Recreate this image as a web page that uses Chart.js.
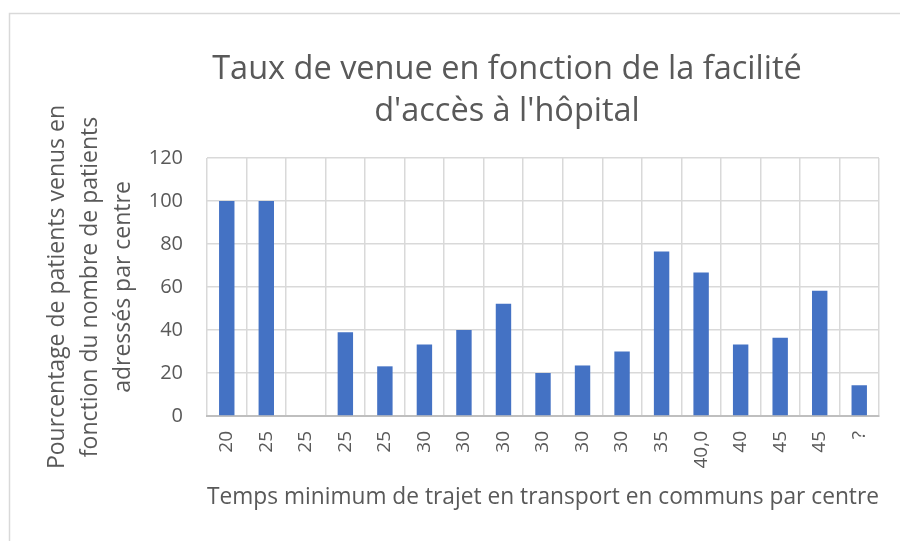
<!DOCTYPE html>
<html>
<head>
<meta charset="utf-8">
<script src="https://cdn.jsdelivr.net/npm/chart.js@4.4.0/dist/chart.umd.min.js"></script>
<style>
  html, body { margin: 0; padding: 0; background: #fff; }
  #wrap { width: 900px; height: 541px; position: relative; }
</style>
</head>
<body>
<div id="wrap"><canvas id="chart" width="900" height="541"></canvas></div>
<script>
// data
const categories = ['20', '25', '25', '25', '25', '30', '30', '30', '30', '30', '30', '35', '40,0', '40', '45', '45', '?'];
const tauxVenue = [100, 100, 0, 38.9, 23.1, 33.3, 40, 52.2, 20, 23.5, 30, 76.5, 66.7, 33.3, 36.4, 58.3, 14.3];
const yTicks = [0, 20, 40, 60, 80, 100, 120];

const titleLines = ["Taux de venue en fonction de la facilité", "d'accès à l'hôpital"];
const yTitleLines = ['Pourcentage de patients venus en', 'fonction du nombre de patients', 'adressés par centre'];
const xTitle = 'Temps minimum de trajet en transport en communs par centre';

const textColor = '#595959';
const gridColor = '#d9d9d9';

// Excel-like frame and a title centred where the original sits
const frameAndTitle = {
    id: 'frameAndTitle',
    beforeDraw(chart) {
        const ctx = chart.ctx;
        ctx.save();
        ctx.strokeStyle = '#d9d9d9';
        ctx.lineWidth = 1.5;
        ctx.strokeRect(9.5, 13.5, 1000, 1000);
        ctx.restore();
    },
    afterDraw(chart) {
        const ctx = chart.ctx;
        ctx.save();
        ctx.fillStyle = textColor;
        ctx.font = '32.5px "Open Sans"';
        ctx.textAlign = 'center';
        ctx.textBaseline = 'middle';
        titleLines.forEach((line, i) => ctx.fillText(line, 507, 70 + i * 42));
        ctx.restore();
    }
};

new Chart(document.getElementById('chart'), {
    type: 'bar',
    data: {
        labels: categories,
        datasets: [{
            data: tauxVenue,
            backgroundColor: '#4472c4',
            barPercentage: 0.39,
            categoryPercentage: 1
        }]
    },
    options: {
        responsive: false,
        animation: false,
        layout: { padding: { top: 158, right: 21, left: 0, bottom: 0 } },
        plugins: {
            legend: { display: false },
            tooltip: { enabled: false }
        },
        scales: {
            x: {
                grid: { color: gridColor, lineWidth: 1.5, drawTicks: false, offset: true },
                border: { display: true, color: '#bfbfbf', width: 2 },
                ticks: {
                    color: textColor,
                    font: { family: 'Open Sans', size: 19 },
                    minRotation: 90,
                    maxRotation: 90,
                    padding: 15,
                    autoSkip: false
                },
                title: {
                    display: true,
                    text: xTitle,
                    color: textColor,
                    font: { family: 'Open Sans', size: 23 },
                    padding: { top: 0, bottom: 30 }
                },
                afterFit(scale) { scale.height = 541 - 416; }
            },
            y: {
                min: 0,
                max: 120,
                afterBuildTicks(scale) { scale.ticks = yTicks.map(v => ({ value: v })); },
                grid: { color: gridColor, lineWidth: 1.5, drawTicks: false },
                border: { display: false },
                ticks: {
                    color: textColor,
                    font: { family: 'Open Sans', size: 20 },
                    padding: 24
                },
                title: {
                    display: true,
                    text: yTitleLines,
                    color: textColor,
                    font: { family: 'Open Sans', size: 23, lineHeight: 1.43 },
                    padding: { top: 41, bottom: 0 }
                },
                afterFit(scale) { scale.width = 207; }
            }
        }
    },
    plugins: [frameAndTitle]
});
</script>
</body>
</html>
